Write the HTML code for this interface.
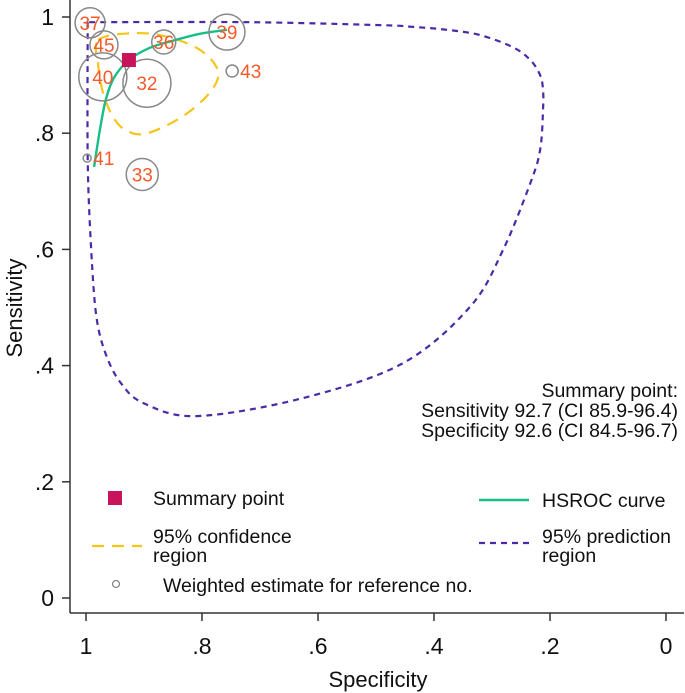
<!DOCTYPE html>
<html><head><meta charset="utf-8"><style>
body{margin:0;background:#fff;}
svg{display:block;font-family:"Liberation Sans",Arial,sans-serif;}
</style></head><body>
<svg id="chart" width="685" height="693" xmlns="http://www.w3.org/2000/svg">
<g id="axes"></g><g id="regions"></g><g id="studies"></g><g id="legend"></g>
</svg>
<script>
const xTicks=[1,0.8,0.6,0.4,0.2,0];
const xTickLabels=["1",".8",".6",".4",".2","0"];
const yTicks=[0,0.2,0.4,0.6,0.8,1];
const yTickLabels=["0",".2",".4",".6",".8","1"];
const studyIds=["37","45","40","32","36","39","43","41","33"];
const studySpec=[0.993,0.969,0.971,0.895,0.866,0.757,0.748,0.998,0.903];
const studySens=[0.990,0.952,0.897,0.886,0.957,0.974,0.907,0.757,0.729];
const studyWeight=[15,14,24,24,12,18,6,4,16];
const summarySpec=0.926, summarySens=0.926;
const hsrocSpec=[0.986,0.976,0.966,0.952,0.926,0.890,0.847,0.804,0.757];
const hsrocSens=[0.742,0.806,0.857,0.895,0.926,0.947,0.960,0.971,0.978];
const confSpec=[0.979,0.924,0.864,0.803,0.772,0.790,0.838,0.898,0.933,0.955,0.971,0.979];
const confSens=[0.960,0.972,0.967,0.943,0.905,0.866,0.826,0.799,0.806,0.831,0.871,0.917];
const predSpec=[0.997,0.997,0.991,0.982,0.966,0.940,0.900,0.809,0.626,0.454,0.338,0.281,0.234,0.217,0.212,0.212,0.217,0.234,0.264,0.321,0.378,0.436,0.493,0.717,0.997];
const predSens=[0.991,0.754,0.599,0.484,0.420,0.370,0.335,0.313,0.344,0.404,0.501,0.599,0.714,0.771,0.840,0.874,0.900,0.926,0.948,0.969,0.978,0.983,0.986,0.991,0.991];

const X=s=>86+(1-s)*580, Y=v=>598-v*581;
const NS="http://www.w3.org/2000/svg";
function mk(tag,attrs,parent,text){const e=document.createElementNS(NS,tag);for(const k in attrs)e.setAttribute(k,attrs[k]);if(text!==undefined)e.textContent=text;parent.appendChild(e);return e;}
const axes=document.getElementById('axes');
let e=mk('line',{x1:70,y1:0,x2:70,y2:613,stroke:'#333','stroke-width':1.5},axes);

e=mk('line',{x1:70,y1:613,x2:684,y2:613,stroke:'#333','stroke-width':1.5},axes);

xTicks.forEach((t,i)=>{
 e=mk('line',{x1:X(t),y1:613,x2:X(t),y2:621,stroke:'#333','stroke-width':1.5},axes);
 
 e=mk('text',{x:X(t),y:654,'text-anchor':'middle','font-size':23,fill:'#111'},axes,xTickLabels[i]);
 
});
yTicks.forEach((t,i)=>{
 e=mk('line',{x1:62,y1:Y(t),x2:70,y2:Y(t),stroke:'#333','stroke-width':1.5},axes);
 
 e=mk('text',{x:54,y:Y(t)+8,'text-anchor':'end','font-size':23,fill:'#111'},axes,yTickLabels[i]);
 
});
e=mk('text',{x:378,y:687,'text-anchor':'middle','font-size':22,fill:'#111'},axes,'Specificity');

e=mk('text',{x:0,y:0,'text-anchor':'middle','font-size':22,fill:'#111',transform:'translate(22,308) rotate(-90)'},axes,'Sensitivity');


const reg=document.getElementById('regions');
function smooth(sx,sy,close){const p=sx.map((s,i)=>[X(s),Y(sy[i])]);const n=p.length;let d='M'+p[0][0].toFixed(1)+' '+p[0][1].toFixed(1);
 const g=i=>close?p[(i+n)%n]:p[Math.max(0,Math.min(n-1,i))];
 const m=close?n:n-1;
 for(let i=0;i<m;i++){const p0=g(i-1),p1=g(i),p2=g(i+1),p3=g(i+2);
  d+=`C${(p1[0]+(p2[0]-p0[0])/6).toFixed(1)} ${(p1[1]+(p2[1]-p0[1])/6).toFixed(1)} ${(p2[0]-(p3[0]-p1[0])/6).toFixed(1)} ${(p2[1]-(p3[1]-p1[1])/6).toFixed(1)} ${p2[0].toFixed(1)} ${p2[1].toFixed(1)}`;}
 return d;}
e=mk('path',{d:smooth(predSpec,predSens,false),fill:'none',stroke:'#4b2aa8','stroke-width':2.2,'stroke-dasharray':'6 5'},reg);

e=mk('path',{d:smooth(confSpec,confSens,true),fill:'none',stroke:'#f5c518','stroke-width':2.2,'stroke-dasharray':'12 8'},reg);

e=mk('path',{d:smooth(hsrocSpec,hsrocSens,false),fill:'none',stroke:'#17bf86','stroke-width':2.4},reg);


const st=document.getElementById('studies');
studyIds.forEach((id,i)=>{
 const cx=X(studySpec[i]),cy=Y(studySens[i]),r=studyWeight[i];
 e=mk('circle',{cx:cx,cy:cy,r:r,fill:'none',stroke:'#888','stroke-width':1.5},st);
 
 const side=r<10;
 e=mk('text',{x:side?cx+r+2:cx,y:cy+7,'text-anchor':side?'start':'middle','font-size':19,fill:'#f45a2a'},st,id);
 
});
e=mk('rect',{x:X(summarySpec)-7,y:Y(summarySens)-7,width:14,height:14,fill:'#c8145a'},st);


const lg=document.getElementById('legend');
const T=(x,y,s,anchor)=>mk('text',{x:x,y:y,'font-size':19.5,fill:'#111','text-anchor':anchor||'start'},lg,s);
e=T(678,397,'Summary point:','end');
e=T(678,417,'Sensitivity 92.7 (CI 85.9-96.4)','end');
e=T(678,437,'Specificity 92.6 (CI 84.5-96.7)','end');
e=mk('rect',{x:108,y:491,width:14,height:14,fill:'#c8145a'},lg);
e=T(153,505,'Summary point');
e=mk('line',{x1:92,y1:546,x2:142,y2:546,stroke:'#f5c518','stroke-width':2.2,'stroke-dasharray':'12 8'},lg);
e=T(153,543,'95% confidence');
e=T(153,562,'region');
e=mk('circle',{cx:116,cy:584,r:3.5,fill:'none',stroke:'#888','stroke-width':1.3},lg);
e=T(163,592,'Weighted estimate for reference no.');
e=mk('line',{x1:479,y1:500,x2:529,y2:500,stroke:'#17bf86','stroke-width':2.4},lg);
e=T(542,507,'HSROC curve');
e=mk('line',{x1:479,y1:543,x2:529,y2:543,stroke:'#4b2aa8','stroke-width':2.2,'stroke-dasharray':'6 5'},lg);
e=T(542,543,'95% prediction');
e=T(542,562,'region');
</script>
</body></html>
